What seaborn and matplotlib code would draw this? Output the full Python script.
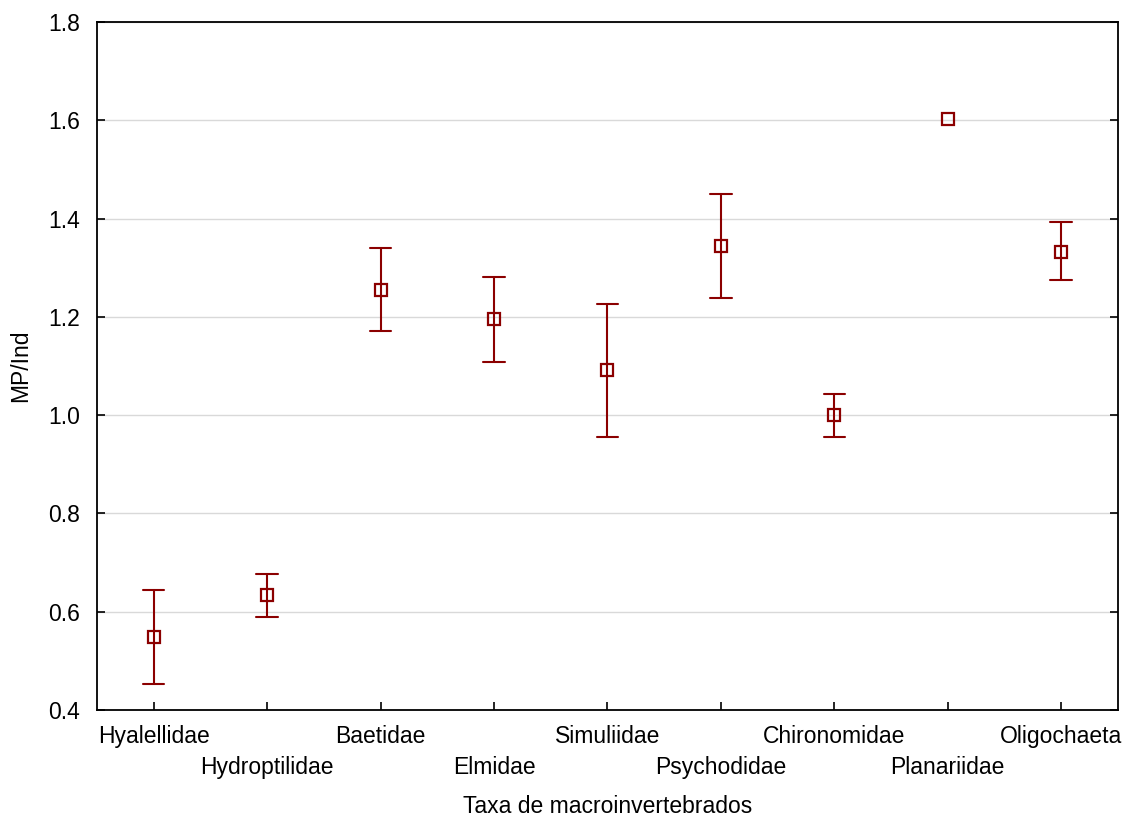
import numpy as np
import pandas as pd
import matplotlib
matplotlib.use("Agg")
import matplotlib.pyplot as plt
import seaborn as sns

# Data
taxa = ["Hyalellidae", "Hydroptilidae", "Baetidae", "Elmidae", "Simuliidae",
        "Psychodidae", "Chironomidae", "Planariidae", "Oligochaeta"]
means = [0.549, 0.634, 1.255, 1.196, 1.092, 1.344, 1.000, 1.602, 1.333]
lower = [0.453, 0.590, 1.172, 1.109, 0.955, 1.239, 0.955, None, 1.276]
upper = [0.645, 0.676, 1.341, 1.282, 1.227, 1.450, 1.043, None, 1.393]
yticks = [0.4, 0.6, 0.8, 1.0, 1.2, 1.4, 1.6, 1.8]

# Long-format table: median of (lower, mean, upper) = mean, 100% interval = (lower, upper)
rows = []
for t, m, lo, hi in zip(taxa, means, lower, upper):
    rows.append((t, m))
    if lo is not None:
        rows.append((t, lo))
        rows.append((t, hi))
df = pd.DataFrame(rows, columns=["taxa", "value"])

sns.set_style("white")
plt.rcParams["font.family"] = ["Liberation Sans", "DejaVu Sans"]

fig = plt.figure(figsize=(11.28, 8.18), dpi=100)
ax = fig.add_axes([0.086, 0.132, 0.905, 0.841])

color = "#8B0000"
sns.pointplot(data=df, x="taxa", y="value", order=taxa, estimator=np.median,
              errorbar=("pi", 100), color=color, markers="s", linestyles="none",
              capsize=0.19, err_kws={"linewidth": 1.5},
              markerfacecolor="none", markeredgecolor=color,
              markersize=8, markeredgewidth=1.6, ax=ax, zorder=3)

ax.set_ylim(0.4, 1.8)
ax.set_xlim(-0.5, 8.5)
ax.set_yticks(yticks)
ax.set_yticklabels([f"{v:.1f}" for v in yticks])
ax.yaxis.grid(True, color="#d9d9d9", linewidth=1.0, zorder=0)
ax.xaxis.grid(False)
ax.set_axisbelow(True)

# staggered category labels: even on major ticks, odd on minor ticks with a larger pad
even = list(range(0, len(taxa), 2))
odd = list(range(1, len(taxa), 2))
ax.set_xticks(even)
ax.set_xticklabels([taxa[i] for i in even])
ax.set_xticks(odd, minor=True)
ax.set_xticklabels([taxa[i] for i in odd], minor=True)

ax.tick_params(axis="both", which="both", direction="in", length=6, width=1.2,
               colors="black", labelsize=16.5, top=False, right=True, left=True,
               bottom=True)
ax.tick_params(axis="x", which="major", pad=11)
ax.tick_params(axis="x", which="minor", pad=33)
ax.tick_params(axis="y", pad=12)
ax.tick_params(axis="y", which="minor", left=False, right=False)
for s in ax.spines.values():
    s.set_visible(True)
    s.set_color("black")
    s.set_linewidth(1.3)

ax.set_xlabel("Taxa de macroinvertebrados", fontsize=16.5, color="black", va="center")
ax.xaxis.set_label_coords(0.5, -(806 - 710) / 688)
ax.set_ylabel("MP/Ind", fontsize=16.5, labelpad=12, color="black")

fig.savefig("out.png", dpi=100)
